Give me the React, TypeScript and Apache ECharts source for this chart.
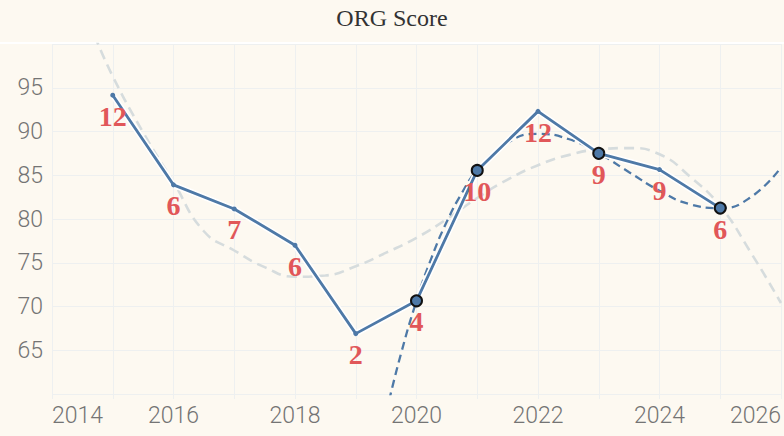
import React, { useEffect, useRef } from "react";
import * as echarts from "echarts";

// ---- data ----
const years = [2015, 2016, 2017, 2018, 2019, 2020, 2021, 2022, 2023, 2024, 2025];
const scores = [94.15, 83.9, 81.15, 77.0, 66.9, 70.65, 85.55, 92.3, 87.5, 85.65, 81.25];
const counts = [12, 6, 7, 6, 2, 4, 10, 12, 9, 9, 6];
const highlightedYears = [2020, 2021, 2023, 2025];

// light grey dashed trend curve
const trendYears = [2014.7, 2015, 2015.5, 2016, 2016.5, 2017, 2017.5, 2018, 2018.5, 2019, 2019.5, 2020, 2020.5, 2021, 2021.5, 2022, 2022.5, 2023, 2023.5, 2024, 2024.5, 2025, 2025.5, 2026];
const trendValues = [101.0, 96.3, 89.9, 84.2, 78.6, 76.4, 74.5, 73.4, 73.55, 74.6, 76.15, 77.85, 80.0, 82.4, 84.5, 86.15, 87.3, 87.95, 88.1, 87.4, 84.85, 81.45, 76.2, 70.4];

// blue dashed curve
const fitYears = [2019.55, 2019.75, 2020, 2020.25, 2020.5, 2020.75, 2021, 2021.5, 2022, 2022.5, 2023, 2023.5, 2024, 2024.5, 2025, 2025.5, 2026];
const fitValues = [59.29, 64.74, 70.65, 75.62, 79.71, 83.0, 85.55, 88.71, 89.72, 89.14, 87.5, 85.35, 83.23, 81.69, 81.25, 82.48, 85.9];

const xTickLabels = [2014, 2016, 2018, 2020, 2022, 2024, 2026];
const yTickLabels = [65, 70, 75, 80, 85, 90, 95];

const BG = "#fdf9f1";
const BLUE = "#4e79a7";
const RED = "#e15759";
const GRID = "#eef0f0";
const AXIS_TEXT = "#747474";

export default function App() {
  const ref = useRef<HTMLDivElement>(null);

  useEffect(() => {
    document.body.style.margin = "0";
    const chart = echarts.init(ref.current!, null, { renderer: "svg" });

    const mainData = years.map((y, i) => {
      const hl = highlightedYears.includes(y);
      return {
        value: [y, scores[i]],
        symbolSize: hl ? 11 : 5,
        itemStyle: hl
          ? { color: BLUE, borderColor: "#111111", borderWidth: 2 }
          : { color: BLUE, borderWidth: 0 },
      };
    });

    const option: any = {
      animation: false,
      backgroundColor: BG,
      title: {
        text: "ORG Score",
        left: "center",
        top: 1,
        textStyle: {
          fontFamily: "Liberation Serif",
          fontSize: 24,
          fontWeight: "normal",
          color: "#333333",
        },
      },
      graphic: [
        {
          type: "rect",
          shape: { x: 0, y: 42, width: 784, height: 2 },
          style: { fill: "#ffffff" },
          silent: true,
        },
      ],
      grid: { left: 52, right: 0, top: 44, bottom: 42 },
      xAxis: {
        type: "value",
        min: 2014,
        max: 2026,
        interval: 1,
        axisLine: { show: false },
        axisTick: { show: true, length: 5, lineStyle: { color: GRID } },
        splitLine: { show: true, lineStyle: { color: GRID, width: 1 } },
        axisLabel: {
          formatter: (v: number) => (xTickLabels.includes(v) ? String(v) : ""),
          alignMinLabel: "left",
          alignMaxLabel: "right",
          fontFamily: "Roboto",
          fontWeight: 300,
          fontSize: 23,
          color: AXIS_TEXT,
          margin: 10,
        },
      },
      yAxis: {
        type: "value",
        min: 60,
        max: 100,
        interval: 5,
        axisLine: { show: false },
        axisTick: { show: false },
        splitLine: { show: true, lineStyle: { color: GRID, width: 1 } },
        axisLabel: {
          formatter: (v: number) => (yTickLabels.includes(v) ? String(v) : ""),
          fontFamily: "Roboto",
          fontWeight: 300,
          fontSize: 23,
          color: AXIS_TEXT,
          margin: 9,
        },
      },
      series: [
        {
          name: "trend",
          type: "line",
          data: trendYears.map((x, i) => [x, trendValues[i]]),
          smooth: true,
          showSymbol: false,
          symbol: "none",
          silent: true,
          z: 1,
          lineStyle: { color: "#d6dcdd", width: 2.6, type: [10, 6] },
        },
        {
          name: "fit",
          type: "line",
          data: fitYears.map((x, i) => [x, fitValues[i]]),
          smooth: true,
          showSymbol: false,
          symbol: "none",
          silent: true,
          z: 2,
          lineStyle: { color: BLUE, width: 2.3, type: [8, 5] },
        },
        {
          name: "halo",
          type: "line",
          data: years.map((y, i) => [y, scores[i]]),
          symbol: "none",
          silent: true,
          z: 3,
          lineStyle: { color: "#ffffff", width: 6 },
        },
        {
          name: "score",
          type: "line",
          data: mainData,
          symbol: "circle",
          z: 4,
          lineStyle: { color: BLUE, width: 2.8 },
          label: {
            show: true,
            position: "inside",
            offset: [0, 21],
            formatter: (p: any) => String(counts[p.dataIndex]),
            fontFamily: "Liberation Serif",
            fontWeight: "bold",
            fontSize: 28,
            color: RED,
            textBorderWidth: 0,
          },
        },
      ],
    };

    chart.setOption(option);
    return () => chart.dispose();
  }, []);

  return <div ref={ref} style={{ width: 784, height: 436 }} />;
}
